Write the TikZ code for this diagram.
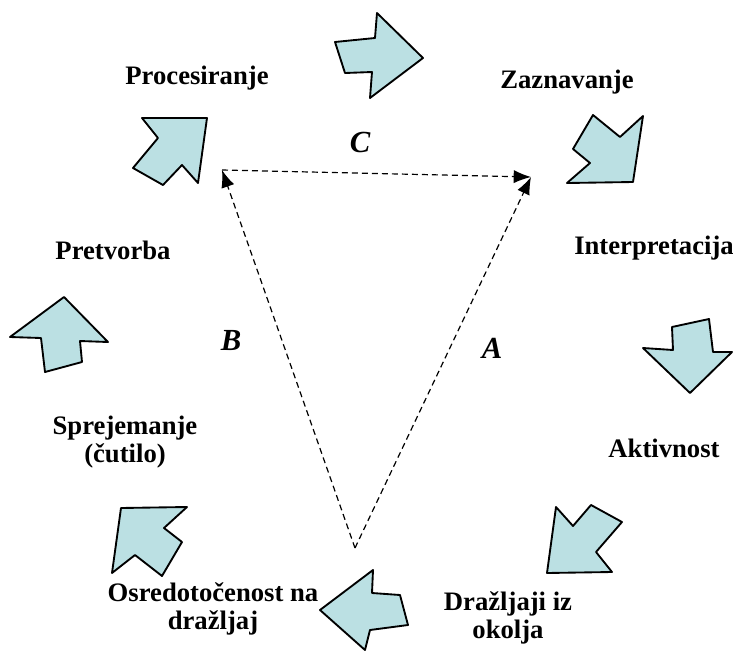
\documentclass[tikz,border=0pt]{standalone}
\usepackage{fontspec}
\setmainfont{Liberation Serif}
\usepackage{tikz}
\usetikzlibrary{arrows,arrows.meta,positioning,shapes}
\definecolor{arrowfill}{RGB}{187,224,227}

\begin{document}
\begin{tikzpicture}[x=0.75pt,y=-0.75pt,
            lab/.style={font=\bfseries\fontsize{20}{21.5}\selectfont,align=center,inner sep=0pt},
            letter/.style={font=\bfseries\itshape\fontsize{23}{24}\selectfont,inner sep=0pt},
            bigarrow/.style={draw,fill=arrowfill,line width=1.4pt,line join=round},
            link/.style={line width=0.9pt,dash pattern=on 4.5pt off 3pt,-{Latex[length=13pt,width=10pt]}}
          ]
          \useasboundingbox (0,0) rectangle (733,651);

          %arrows round the circle
          \path[bigarrow] (335,42) -- (375,38) -- (377,13) -- (423,58) -- (370,98) -- (372,72) -- (345,73) -- cycle;
          \path[bigarrow] (593,115) -- (620,137) -- (643,116) -- (633,182) -- (567,183) -- (590,163) -- (573,149) -- cycle;
          \path[bigarrow] (672,327) -- (709,319) -- (713,352) -- (732,352) -- (690,393) -- (643,348) -- (673,350) -- cycle;
          \path[bigarrow] (556,507) -- (573,526) -- (591,505) -- (622,522) -- (596,552) -- (612,572) -- (547,573) -- cycle;
          \path[bigarrow] (320,610) -- (373,570) -- (372,593) -- (400,595) -- (408,625) -- (370,630) -- (365,650) -- cycle;
          \path[bigarrow] (121,508) -- (187,507) -- (164,528) -- (182,542) -- (162,576) -- (135,555) -- (112,573) -- cycle;
          \path[bigarrow] (10,337) -- (64,297) -- (108,342) -- (80,341) -- (82,362) -- (45,372) -- (41,338) -- cycle;
          \path[bigarrow] (142,118) -- (207,118) -- (198,183) -- (182,165) -- (163,185) -- (133,168) -- (158,138) -- cycle;

          %labels
          \node[lab] (proc) at (197,78) {Procesiranje};
          \node[lab] (zazn) at (567,82) {Zaznavanje};
          \node[lab] (interp) at (654,248) {Interpretacija};
          \node[lab] (pretv) at (113,250) {Pretvorba};
          \node[lab] (akt) at (664,448) {Aktivnost};
          \node[lab] (sprej) at (125,442) {Sprejemanje\\(čutilo)};
          \node[lab] (osred) at (213,609) {Osredotočenost na\\dražljaj};
          \node[lab] (drazl) at (508,618) {Dražljaji iz\\okolja};

          %letters
          \node[letter] (c) at (360,142) {C};
          \node[letter] (b) at (231,340) {B};
          \node[letter] (a) at (492,348) {A};

          %triangle
          \coordinate (tl) at (222,170);
          \coordinate (tr) at (531,177);
          \coordinate (bot) at (355,548);
          \draw[link] (tl) -- (tr);
          \draw[link] (bot) -- (tl);
          \draw[link] (bot) -- (tr);

      \end{tikzpicture}
\end{document}
